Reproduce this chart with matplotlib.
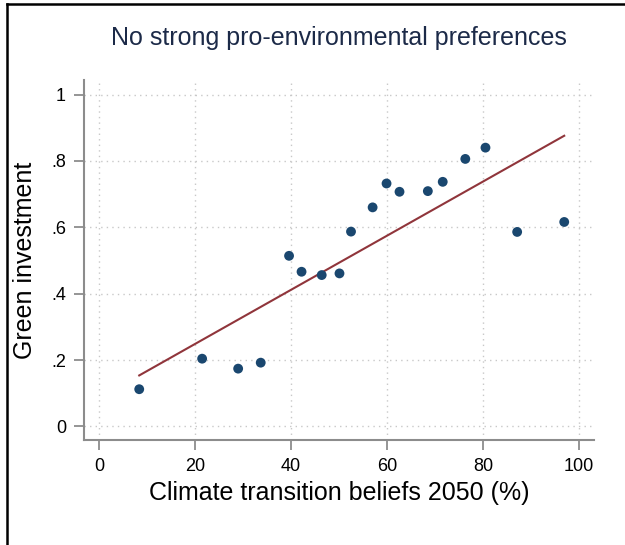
import numpy as np
import matplotlib
matplotlib.use("Agg")
import matplotlib.pyplot as plt
from matplotlib.lines import Line2D

plt.rcParams['font.family'] = ['Liberation Sans', 'DejaVu Sans']

# Binned means: climate transition beliefs (x) vs. share choosing green investment (y)
beliefs = [8.4, 21.5, 29.0, 33.7, 39.6, 42.2, 46.4, 50.1, 52.5,
           57.0, 59.9, 62.6, 68.5, 71.6, 76.3, 80.5, 87.1, 96.9]
green_share = [0.112, 0.204, 0.174, 0.192, 0.514, 0.466, 0.456, 0.461, 0.587,
               0.660, 0.732, 0.707, 0.709, 0.737, 0.806, 0.840, 0.586, 0.616]
x_ticks = [0, 20, 40, 60, 80, 100]
y_ticks = [0, 0.2, 0.4, 0.6, 0.8, 1.0]
y_tick_labels = ["0", ".2", ".4", ".6", ".8", "1"]

title = "No strong pro-environmental preferences"
x_label = "Climate transition beliefs 2050 (%)"
y_label = "Green investment"

navy = "#1a476f"
maroon = "#90353b"
spine_gray = "#8c8c8c"

fig = plt.figure(figsize=(6.25, 5.45), dpi=100)
ax = fig.add_axes([0.1344, 0.1927, 0.816, 0.6606])

x = np.array(beliefs)
y = np.array(green_share)
slope, intercept = np.polyfit(x, y, 1)
xs = np.array([x.min(), x.max()])

ax.plot(xs, intercept + slope * xs, color=maroon, lw=1.5, zorder=2)
ax.scatter(x, y, s=50, color=navy, edgecolors='none', zorder=3)

ax.set_xlim(-3.1, 103.1)
ax.set_ylim(-0.041, 1.044)
ax.set_xticks(x_ticks)
ax.set_yticks(y_ticks)
ax.set_yticklabels(y_tick_labels)

ax.grid(True, color="#c8c8c8", linestyle=(0, (1, 3)), linewidth=1.0, zorder=0)
ax.set_axisbelow(True)

for side in ("top", "right"):
    ax.spines[side].set_visible(False)
for side in ("left", "bottom"):
    ax.spines[side].set_color(spine_gray)
    ax.spines[side].set_linewidth(1.5)

ax.tick_params(axis='both', direction='out', length=7, width=1.3,
               color=spine_gray, labelsize=13, labelcolor="black", pad=6)

ax.set_xlabel(x_label, fontsize=18, labelpad=4)
ax.set_ylabel(y_label, fontsize=18, labelpad=10)

fig.text(0.5424, 0.931, title, ha='center', va='center', fontsize=18,
         color="#1c2a48")

# Outer frame fragments along the left and top edges
fig.add_artist(Line2D([0.011, 0.011], [0.0, 0.992], transform=fig.transFigure,
                      color="black", lw=1.8))
fig.add_artist(Line2D([0.011, 1.0], [0.992, 0.992], transform=fig.transFigure,
                      color="black", lw=1.8))

fig.savefig("out.png", dpi=100, facecolor="white")
